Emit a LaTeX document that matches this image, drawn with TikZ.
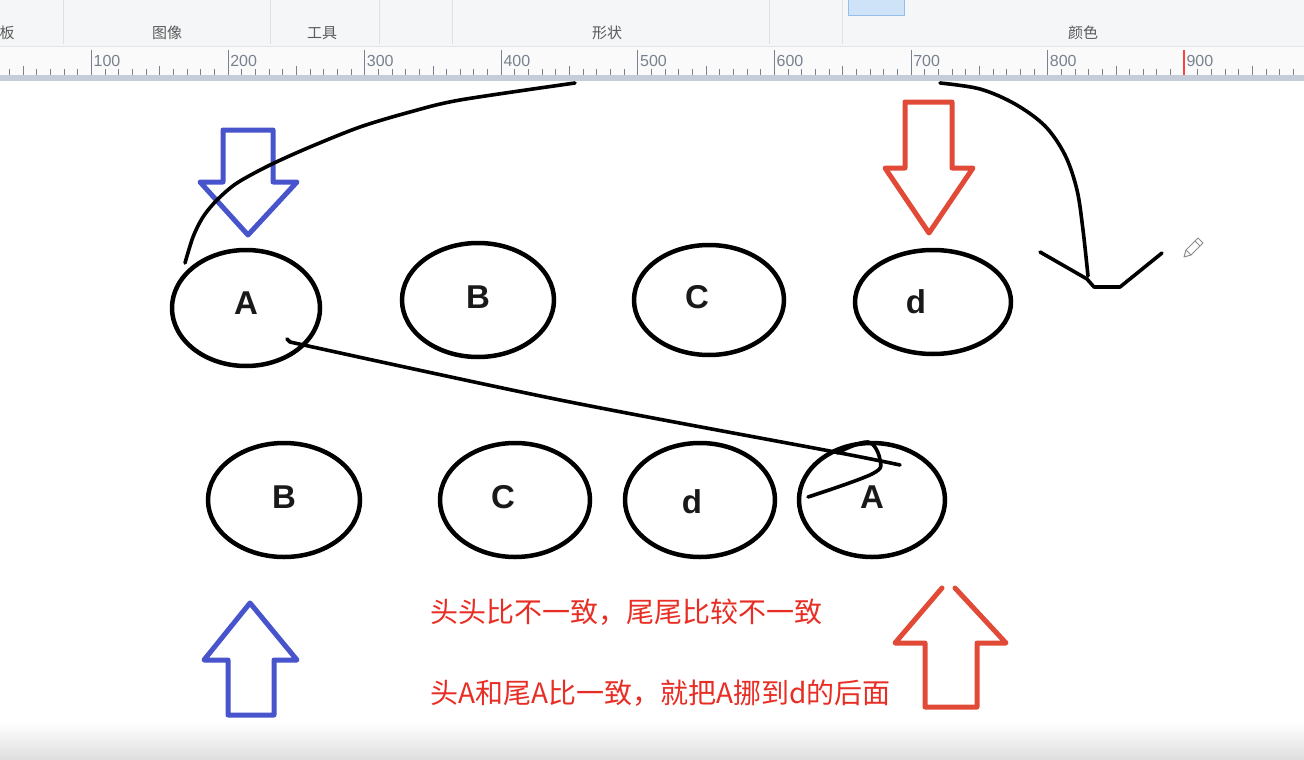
\documentclass[tikz,border=0pt]{standalone}
\usepackage{fontspec}
\setmainfont{Liberation Sans}
\newfontfamily\cjk{Noto Sans CJK SC}
\usetikzlibrary{shapes.geometric,calc}
\definecolor{arrblue}{RGB}{72,84,204}
\definecolor{arrred}{RGB}{226,74,56}
\definecolor{txtred}{RGB}{232,46,36}
\definecolor{barbg}{RGB}{245,246,247}
\definecolor{rulerbg}{RGB}{250,250,251}
\definecolor{rulerline}{RGB}{196,205,216}
\definecolor{tickc}{RGB}{120,130,142}
\definecolor{uitext}{RGB}{90,90,90}
\definecolor{btnfill}{RGB}{206,226,248}
\definecolor{btnline}{RGB}{150,190,232}
\tikzset{
  oval/.style={ellipse, draw=black, line width=4.5pt, inner sep=0pt},
  lbl/.style={font=\fontsize{33}{36}\selectfont\bfseries, text=black!90},
  hand/.style={draw=black, line width=3.6pt, line cap=round, line join=round},
  blockarrow/.style={line width=5pt, line join=round, line cap=round},
  note/.style={anchor=west, text=txtred, font=\cjk\fontsize{28}{31}\selectfont, inner sep=0pt},
  uilabel/.style={text=uitext, font=\cjk\fontsize{15}{18}\selectfont, inner sep=0pt},
  rulernum/.style={text=tickc, font=\fontsize{16}{18}\selectfont, anchor=west, inner sep=0pt}
}
\begin{document}
\begin{tikzpicture}[x=1pt,y=-1pt]
\useasboundingbox (0,0) rectangle (1304,760);
\fill[white] (0,0) rectangle (1304,760);
% toolbar
\fill[barbg] (0,0) rectangle (1304,47);
\foreach \sx in {63,270,379,452,769,842} {\draw[black!12, line width=1pt] (\sx,0) -- (\sx,44);}
\fill[btnfill] (848,0) rectangle (904,16);
\draw[btnline, line width=1pt] (848,-1) -- (848,16) -- (904,16) -- (904,-1);
\node[uilabel] (ui1) at (7,33) {板};
\node[uilabel] (ui2) at (167,33) {图像};
\node[uilabel] (ui3) at (322,33) {工具};
\node[uilabel] (ui4) at (607,33) {形状};
\node[uilabel] (ui5) at (1083,33) {颜色};
% ruler
\fill[rulerbg] (0,47) rectangle (1304,75);
\draw[black!10, line width=1pt] (0,47) -- (1304,47);
\fill[rulerline] (0,75) rectangle (1304,81);
\foreach \u in {-30,-20,...,1000} {
  \pgfmathsetmacro{\tx}{91.5+(\u-100)*1.366}
  \pgfmathtruncatemacro{\m}{mod(\u+1000,100)}
  \ifnum\m=0
    \draw[tickc, line width=1pt] (\tx,50) -- (\tx,75);
  \else\ifnum\m=50
    \draw[tickc, line width=1pt] (\tx,66) -- (\tx,75);
  \else
    \draw[tickc, line width=1pt] (\tx,69) -- (\tx,75);
  \fi\fi
}
\foreach \n in {100,200,...,900} {
  \pgfmathsetmacro{\tx}{91.5+(\n-100)*1.366+2}
  \node[rulernum] (r\n) at (\tx,61) {\n};
}
\draw[red!75, line width=1.2pt] (1184,50) -- (1184,75);
% bottom shade
\shade[top color=white, bottom color=black!13] (0,722) rectangle (1304,760);

% top row
\node[oval, minimum width=148, minimum height=116, label={[lbl, yshift=5pt]center:A}] (tA) at (246,308) {};
\node[oval, minimum width=152, minimum height=114, label={[lbl, yshift=3pt]center:B}] (tB) at (478,300) {};
\node[oval, minimum width=150, minimum height=110, label={[lbl, xshift=-12pt, yshift=3pt]center:C}] (tC) at (709,300) {};
\node[oval, minimum width=156, minimum height=104, label={[lbl, xshift=-17pt]center:d}] (td) at (933,302) {};
% bottom row
\node[oval, minimum width=152, minimum height=114, label={[lbl, yshift=3pt]center:B}] (bB) at (284,500) {};
\node[oval, minimum width=150, minimum height=114, label={[lbl, xshift=-12pt, yshift=3pt]center:C}] (bC) at (515,500) {};
\node[oval, minimum width=150, minimum height=114, label={[lbl, xshift=-8pt, yshift=-2pt]center:d}] (bd) at (700,500) {};
\node[oval, minimum width=146, minimum height=114, label={[lbl, yshift=3pt]center:A}] (bA) at (872,500) {};

% block arrows
\draw[blockarrow, arrblue] (223,130) -- (273,130) -- (273,182) -- (297,182) -- (248,235) -- (200,182) -- (223,182) -- cycle;
\draw[blockarrow, arrred] (905,102) -- (952,102) -- (952,168) -- (973,168) -- (929,233) -- (885,168) -- (905,168) -- cycle;
\draw[blockarrow, arrblue] (250,603) -- (297,660) -- (274,660) -- (274,715) -- (228,715) -- (228,660) -- (204,660) -- cycle;
\draw[blockarrow, arrred] (942,588) -- (895,643) -- (925,643) -- (925,707) -- (977,707) -- (977,643) -- (1006,643) -- (955,588);

% hand-drawn connectors
\coordinate (c1start) at ($(tA)+(-61,-45)$);
\coordinate (c1end) at (575,83);
\draw[hand] plot[smooth, tension=0.5] coordinates {(c1start) (193,237) (203,217) (217,200) (237,183) (270,165) (310,147) (360,127) (410,112) (460,100) (c1end)};
\coordinate (c2start) at (940,83);
\coordinate (c2end) at (1088,276);
\draw[hand] plot[smooth, tension=0.55] coordinates {(c2start) (980,89) (1015,104) (1045,126) (1065,155) (1077,190) (1083,230) (c2end)};
\draw[hand] (1040,252) -- (1087,279) -- (1094,287) -- (1120,287) -- (1162,253);

\coordinate (l1start) at ($(tA)+(44,34)$);
\coordinate (l1end) at ($(bA)+(28,-35)$);
\draw[hand] plot[smooth, tension=0.5] coordinates {(l1start) (560,400) (835,452) (l1end)};
\draw[hand] (l1start) -- ++(-3,-3);
\draw[hand] plot[smooth, tension=0.6] coordinates {(837,453) (868,442) (880,460) (872,474) ($(bA)+(-64,-3)$)};

% pencil cursor
\draw[black!45, line width=1pt, line join=round] (1184,257) -- (1186,250) -- (1198,238) -- (1203,243) -- (1191,255) -- cycle;
\draw[black!45, line width=1pt] (1195,241) -- (1200,246);
\draw[black!45, line width=0.8pt] (1186,250) -- (1191,255);

% notes
\node[note] (n1) at (430,612) {头头比不一致，尾尾比较不一致};
\node[note] (n2) at (430,693) {头A和尾A比一致，就把A挪到d的后面};
\end{tikzpicture}
\end{document}
